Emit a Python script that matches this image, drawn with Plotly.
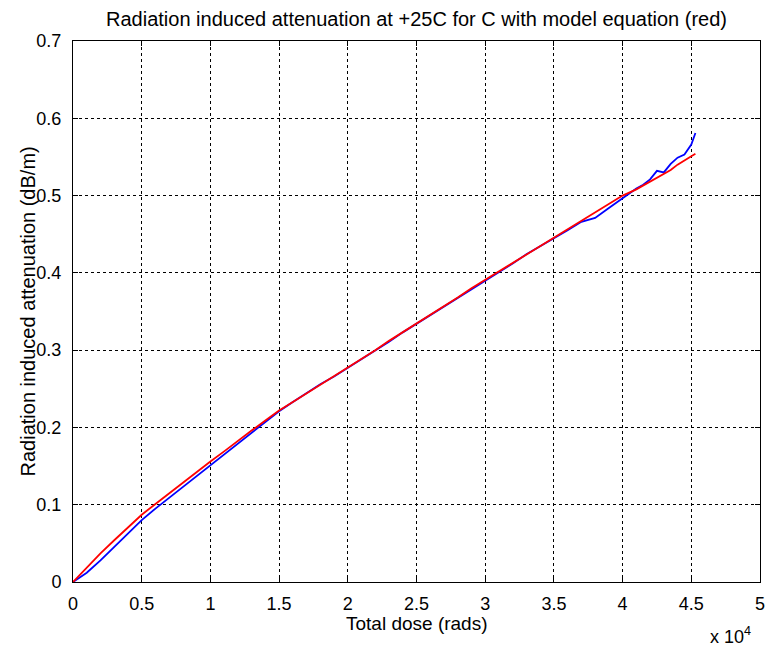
import plotly.graph_objects as go

dose = [0, 1000, 2000, 3000, 4000, 5000, 6000, 7000, 8000, 9000,
        10000, 11000, 12000, 13000, 14000, 15000, 16000, 17000, 18000, 19000,
        20000, 21000, 22000, 23000, 24000, 25000, 26000, 27000, 28000, 29000,
        30000, 31000, 32000, 33000, 34000, 35000, 36000, 37000, 38000, 39000,
        40000, 41000, 41500, 42000, 42500, 43000, 43500, 44000, 44500, 45000, 45300]

measured = [0.000, 0.012, 0.028, 0.045, 0.063, 0.080, 0.095, 0.109, 0.123, 0.137,
            0.151, 0.165, 0.179, 0.193, 0.206, 0.221, 0.233, 0.245, 0.256, 0.266,
            0.277, 0.289, 0.300, 0.311, 0.323, 0.334, 0.346, 0.356, 0.368, 0.379,
            0.390, 0.401, 0.412, 0.424, 0.434, 0.445, 0.455, 0.466, 0.471, 0.484,
            0.497, 0.509, 0.514, 0.521, 0.532, 0.530, 0.541, 0.549, 0.553, 0.566, 0.581]

model = [0.000, 0.019, 0.037, 0.054, 0.071, 0.087, 0.101, 0.115, 0.129, 0.142,
         0.156, 0.169, 0.183, 0.196, 0.209, 0.222, 0.233, 0.244, 0.255, 0.266,
         0.277, 0.289, 0.300, 0.312, 0.323, 0.335, 0.346, 0.357, 0.368, 0.380,
         0.391, 0.402, 0.413, 0.424, 0.435, 0.446, 0.457, 0.468, 0.479, 0.490,
         0.500, 0.508, 0.513, 0.518, 0.522, 0.527, 0.533, 0.540, 0.546, 0.551, 0.554]

x_ticks = [0, 5000, 10000, 15000, 20000, 25000, 30000, 35000, 40000, 45000, 50000]
x_tick_text = ["0", "0.5", "1", "1.5", "2", "2.5", "3", "3.5", "4", "4.5", "5"]
y_ticks = [0, 0.1, 0.2, 0.3, 0.4, 0.5, 0.6, 0.7]
y_tick_text = ["0", "0.1", "0.2", "0.3", "0.4", "0.5", "0.6", "0.7"]

FONT = "Liberation Sans, Arial, sans-serif"
W, H = 766, 652
ML, MR, MT, MB = 73, 6, 41, 70
PW, PH = W - ML - MR, H - MT - MB


def px_x(px):
    return (px - ML) / PW


def px_y(py):
    return (H - MB - py) / PH


fig = go.Figure()
fig.add_trace(go.Scatter(x=dose, y=measured, mode="lines",
                         line=dict(color="#0000ff", width=1.8), showlegend=False))
fig.add_trace(go.Scatter(x=dose, y=model, mode="lines",
                         line=dict(color="#ff0000", width=1.8), showlegend=False))

axis_common = dict(showline=True, linecolor="black", linewidth=1, mirror="ticks",
                   ticks="inside", ticklen=5, tickcolor="black", automargin=False,
                   showgrid=True, gridcolor="black", gridwidth=1, griddash="dot",
                   zeroline=False, tickfont=dict(family=FONT, size=18, color="black"))

fig.update_xaxes(range=[0, 50000], tickvals=x_ticks, ticktext=x_tick_text,
                 ticklabelstandoff=5, **axis_common)
fig.update_yaxes(range=[0, 0.7], tickvals=y_ticks, ticktext=y_tick_text,
                 ticklabelstandoff=7, **axis_common)

lab_font = dict(family=FONT, size=20, color="black")
fig.update_layout(
    width=W, height=H,
    margin=dict(l=ML, r=MR, t=MT, b=MB, autoexpand=False),
    paper_bgcolor="white", plot_bgcolor="white",
    title=dict(text="Radiation induced attenuation at +25C for C with model equation (red)",
               font=lab_font, x=0.5, xref="paper", xanchor="center",
               y=1 - 19 / H, yref="container", yanchor="middle", automargin=False),
    annotations=[
        dict(text="Total dose (rads)", x=0.5, xref="paper", y=px_y(623), yref="paper",
             xanchor="center", yanchor="middle", showarrow=False,
             font=dict(family=FONT, size=19, color="black")),
        dict(text="Radiation induced attenuation (dB/m)", x=px_x(27), xref="paper",
             y=0.5, yref="paper", xanchor="center", yanchor="middle", textangle=-90,
             showarrow=False, font=lab_font),
        dict(text="x 10<sup>4</sup>", x=px_x(753), xref="paper", y=px_y(649), yref="paper",
             xanchor="right", yanchor="bottom", showarrow=False,
             font=dict(family=FONT, size=18, color="black")),
    ],
)

fig.write_html(
    "out.html",
    config={"displayModeBar": False},
    post_script="document.body.style.margin='0';document.body.style.overflow='hidden';",
)
